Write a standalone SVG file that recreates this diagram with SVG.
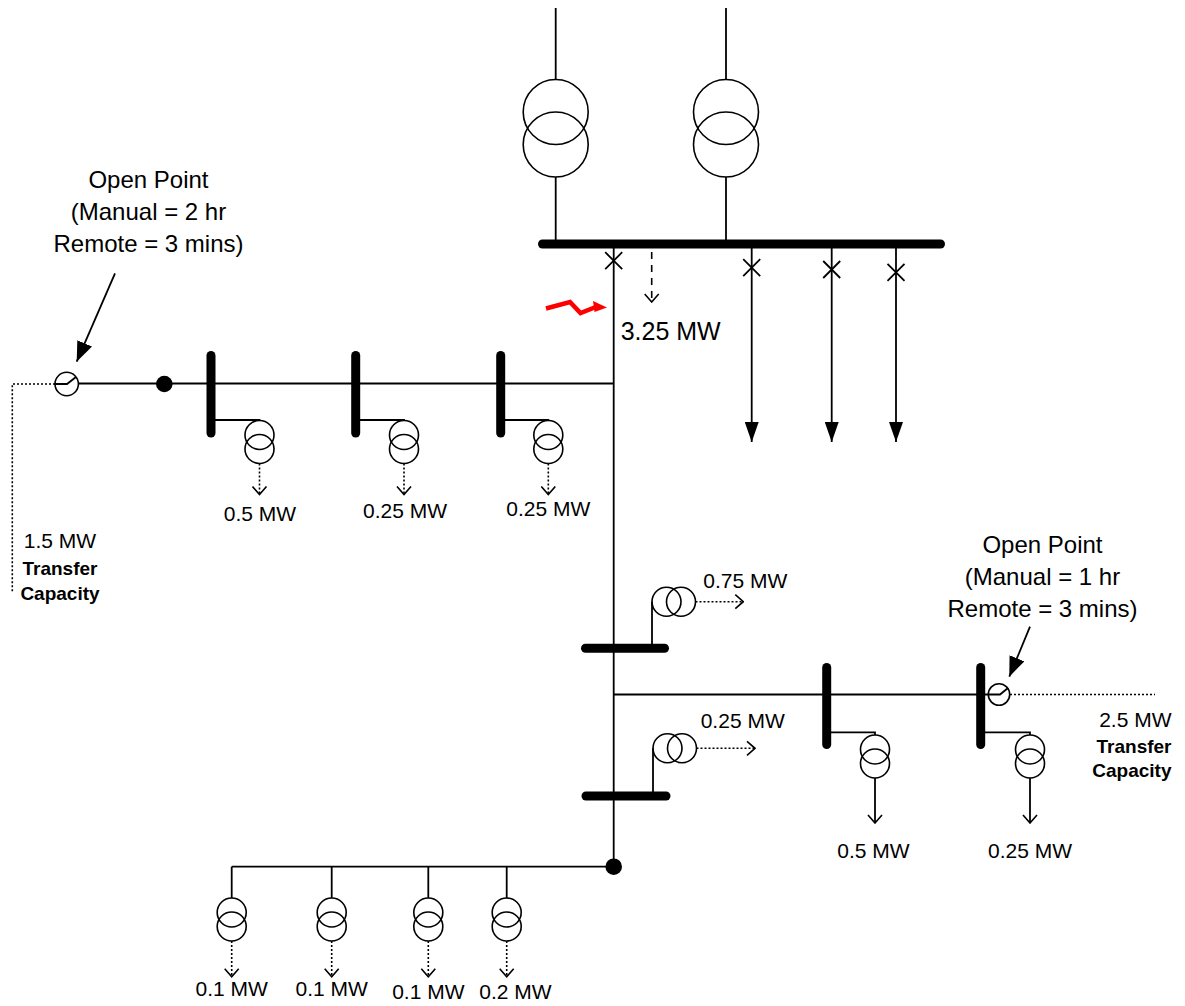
<svg xmlns="http://www.w3.org/2000/svg" width="1185" height="1006" viewBox="0 0 1185 1006">
<style>
.ln{stroke:#000;stroke-width:1.8;fill:none}
.bus{stroke:#000;stroke-width:9;stroke-linecap:round;fill:none}
.dot{stroke:#000;stroke-width:1.6;stroke-dasharray:2 2;fill:none}
.dash{stroke:#000;stroke-width:1.6;stroke-dasharray:7 6;fill:none}
.cir{stroke:#000;stroke-width:1.6;fill:none}
.t{font-family:"Liberation Sans",Arial,sans-serif;fill:#000}
.big{font-size:24px;text-anchor:middle}
.lbl{font-size:21px}
.b{font-size:19px;font-weight:bold;text-anchor:middle}
</style>
<defs>
<marker id="chev" viewBox="0 0 10 16" refX="9" refY="8" markerWidth="10" markerHeight="16" markerUnits="userSpaceOnUse" orient="auto">
<path d="M1,1 L9,8 L1,15" fill="none" stroke="#000" stroke-width="1.6"/>
</marker>
<marker id="tri" viewBox="0 0 20 14" refX="20" refY="7" markerWidth="20" markerHeight="14" markerUnits="userSpaceOnUse" orient="auto">
<path d="M0,0 L20,7 L0,14 z" fill="#000"/>
</marker>
<marker id="tri2" viewBox="0 0 20 16" refX="20" refY="8" markerWidth="20" markerHeight="16" markerUnits="userSpaceOnUse" orient="auto">
<path d="M0,0 L20,8 L0,16 z" fill="#000"/>
</marker>
<g id="txv"><circle class="cir" cx="0" cy="14.5" r="14.5"/><circle class="cir" cx="0" cy="28.5" r="14.5"/></g>
<g id="txh"><circle class="cir" cx="14.5" cy="0" r="14.5"/><circle class="cir" cx="29" cy="0" r="14.5"/></g>
<g id="xm"><path class="ln" d="M-8.5,-8.5 L8.5,8.5 M-8.5,8.5 L8.5,-8.5"/></g>
</defs>

<g id="connectors">
<line class="ln" x1="555.7" y1="8" x2="555.7" y2="79.5"/>
<line class="ln" x1="555.7" y1="177" x2="555.7" y2="244"/>
<line class="ln" x1="726" y1="8" x2="726" y2="79.5"/>
<line class="ln" x1="726" y1="177" x2="726" y2="244"/>
<line class="ln" x1="613.7" y1="244" x2="613.7" y2="866.7"/>
<line class="ln" x1="751.7" y1="244" x2="751.7" y2="442" marker-end="url(#tri)"/>
<line class="ln" x1="831.7" y1="244" x2="831.7" y2="442" marker-end="url(#tri)"/>
<line class="ln" x1="896" y1="244" x2="896" y2="442" marker-end="url(#tri)"/>
<line class="dash" x1="651.7" y1="252" x2="651.7" y2="302" marker-end="url(#chev)"/>
<line class="ln" x1="78.5" y1="383.5" x2="613.7" y2="383.5"/>
<polyline class="dot" points="55,384 12.3,384 12.3,593"/>
<polyline class="ln" points="211,420 259.5,420 259.5,421"/>
<polyline class="ln" points="355.7,420 404,420 404,421"/>
<polyline class="ln" points="500.7,420 548.3,420 548.3,421"/>
<line class="dot" x1="259.5" y1="463.5" x2="259.5" y2="494.5" marker-end="url(#chev)"/>
<line class="dot" x1="404" y1="463.5" x2="404" y2="494.5" marker-end="url(#chev)"/>
<line class="dot" x1="548.3" y1="463.5" x2="548.3" y2="494.5" marker-end="url(#chev)"/>
<polyline class="ln" points="652,648.3 652,601.7"/>
<line class="dot" x1="695.5" y1="601.7" x2="743.3" y2="601.7" marker-end="url(#chev)"/>
<polyline class="ln" points="653,796 653,748.3"/>
<line class="dot" x1="696.5" y1="748.3" x2="755" y2="748.3" marker-end="url(#chev)"/>
<line class="ln" x1="613.7" y1="694.5" x2="988.3" y2="694.5"/>
<line class="dot" x1="1010" y1="694.5" x2="1155" y2="694.5"/>
<polyline class="ln" points="826.7,732.3 875,732.3 875,735"/>
<polyline class="ln" points="980.7,732.3 1030,732.3 1030,735"/>
<line class="ln" x1="875" y1="778" x2="875" y2="823" marker-end="url(#chev)"/>
<line class="ln" x1="1030" y1="778" x2="1030" y2="823" marker-end="url(#chev)"/>
<line class="ln" x1="231.7" y1="866.7" x2="613.7" y2="866.7"/>
<line class="ln" x1="231.7" y1="866.7" x2="231.7" y2="898"/>
<line class="ln" x1="331.7" y1="866.7" x2="331.7" y2="898"/>
<line class="ln" x1="428.3" y1="866.7" x2="428.3" y2="898"/>
<line class="ln" x1="506.7" y1="866.7" x2="506.7" y2="898"/>
<line class="dot" x1="231.7" y1="941" x2="231.7" y2="976.7" marker-end="url(#chev)"/>
<line class="dot" x1="331.7" y1="941" x2="331.7" y2="976.7" marker-end="url(#chev)"/>
<line class="dot" x1="428.3" y1="941" x2="428.3" y2="976.7" marker-end="url(#chev)"/>
<line class="dot" x1="506.7" y1="941" x2="506.7" y2="976.7" marker-end="url(#chev)"/>
<line class="ln" x1="115" y1="273.3" x2="76.7" y2="361.7" marker-end="url(#tri2)"/>
<line class="ln" x1="1030" y1="626.7" x2="1009.3" y2="676.7" marker-end="url(#tri2)"/>
</g>

<g id="supply-tx1"><circle class="cir" cx="555.7" cy="112" r="32.5"/><circle class="cir" cx="555.7" cy="144.5" r="32.5"/></g>
<g id="supply-tx2"><circle class="cir" cx="726" cy="112" r="32.5"/><circle class="cir" cx="726" cy="144.5" r="32.5"/></g>
<g id="main-bus"><line class="bus" x1="542.5" y1="244" x2="940.5" y2="244"/></g>

<g id="breakers">
<use href="#xm" x="613.7" y="260.7"/>
<use href="#xm" x="751.7" y="267.7"/>
<use href="#xm" x="831.7" y="269.5"/>
<use href="#xm" x="896" y="272.3"/>
</g>

<g id="fault">
<path d="M546,308.5 L570,302 L580.5,313 L597,306.5" fill="none" stroke="#ff0000" stroke-width="4.5" stroke-linejoin="miter" stroke-miterlimit="10"/>
<polygon fill="#ff0000" points="593,301 607,307.5 594.5,312"/>
</g>
<text class="t" x="620.7" y="340" font-size="25">3.25 MW</text>

<g id="left-open-point">
<circle class="cir" cx="66.7" cy="384" r="11.7"/>
<polyline class="ln" points="55,384 67,384 76,377"/>
<text class="t big" x="148.5" y="188.3">Open Point</text>
<text class="t big" x="148.5" y="220">(Manual = 2 hr</text>
<text class="t big" x="148.5" y="251.7">Remote = 3 mins)</text>
</g>
<g id="left-node"><circle cx="164.3" cy="384" r="8.3" fill="#000"/></g>
<g id="left-transfer">
<text class="t lbl" x="60" y="548.3" text-anchor="middle">1.5 MW</text>
<text class="t b" x="60" y="575">Transfer</text>
<text class="t b" x="60" y="600">Capacity</text>
</g>

<g id="left-bus1"><line class="bus" x1="211" y1="355.5" x2="211" y2="433"/><use href="#txv" x="259.5" y="420.5"/><text class="t lbl" x="260" y="520.7" text-anchor="middle">0.5 MW</text></g>
<g id="left-bus2"><line class="bus" x1="355.7" y1="355.5" x2="355.7" y2="433"/><use href="#txv" x="404" y="420.5"/><text class="t lbl" x="405" y="518.3" text-anchor="middle">0.25 MW</text></g>
<g id="left-bus3"><line class="bus" x1="500.7" y1="355.5" x2="500.7" y2="433"/><use href="#txv" x="548.3" y="420.5"/><text class="t lbl" x="548.3" y="516" text-anchor="middle">0.25 MW</text></g>

<g id="mid-bus1"><line class="bus" x1="585.5" y1="648.3" x2="664.5" y2="648.3"/><use href="#txh" x="652" y="601.7"/><text class="t lbl" x="703.3" y="588.3">0.75 MW</text></g>
<g id="mid-bus2"><line class="bus" x1="586" y1="796" x2="666" y2="796"/><use href="#txh" x="653" y="748.3"/><text class="t lbl" x="700.7" y="728.3">0.25 MW</text></g>

<g id="right-bus1"><line class="bus" x1="826.7" y1="667.5" x2="826.7" y2="744.5"/><use href="#txv" x="875" y="735"/><text class="t lbl" x="873.5" y="858.3" text-anchor="middle">0.5 MW</text></g>
<g id="right-bus2"><line class="bus" x1="980.7" y1="667.5" x2="980.7" y2="744.5"/><use href="#txv" x="1030" y="735"/><text class="t lbl" x="1030" y="858.3" text-anchor="middle">0.25 MW</text></g>

<g id="right-open-point">
<circle class="cir" cx="999" cy="694.5" r="10.7"/>
<polyline class="ln" points="988.3,694.5 1000,694.5 1008,688"/>
<text class="t big" x="1042.5" y="552.7">Open Point</text>
<text class="t big" x="1042.5" y="585">(Manual = 1 hr</text>
<text class="t big" x="1042.5" y="616.7">Remote = 3 mins)</text>
</g>
<g id="right-transfer">
<text class="t lbl" x="1171.5" y="726.7" text-anchor="end">2.5 MW</text>
<text class="t b" x="1171.5" y="753.3" style="text-anchor:end">Transfer</text>
<text class="t b" x="1171.5" y="777" style="text-anchor:end">Capacity</text>
</g>

<g id="bottom-node"><circle cx="613.7" cy="866.7" r="8.3" fill="#000"/></g>
<g id="bottom-tx1"><use href="#txv" x="231.7" y="898"/><text class="t lbl" x="231.7" y="996" text-anchor="middle">0.1 MW</text></g>
<g id="bottom-tx2"><use href="#txv" x="331.7" y="898"/><text class="t lbl" x="331.7" y="996" text-anchor="middle">0.1 MW</text></g>
<g id="bottom-tx3"><use href="#txv" x="428.3" y="898"/><text class="t lbl" x="428.3" y="999" text-anchor="middle">0.1 MW</text></g>
<g id="bottom-tx4"><use href="#txv" x="506.7" y="898"/><text class="t lbl" x="515.5" y="999" text-anchor="middle">0.2 MW</text></g>
</svg>
